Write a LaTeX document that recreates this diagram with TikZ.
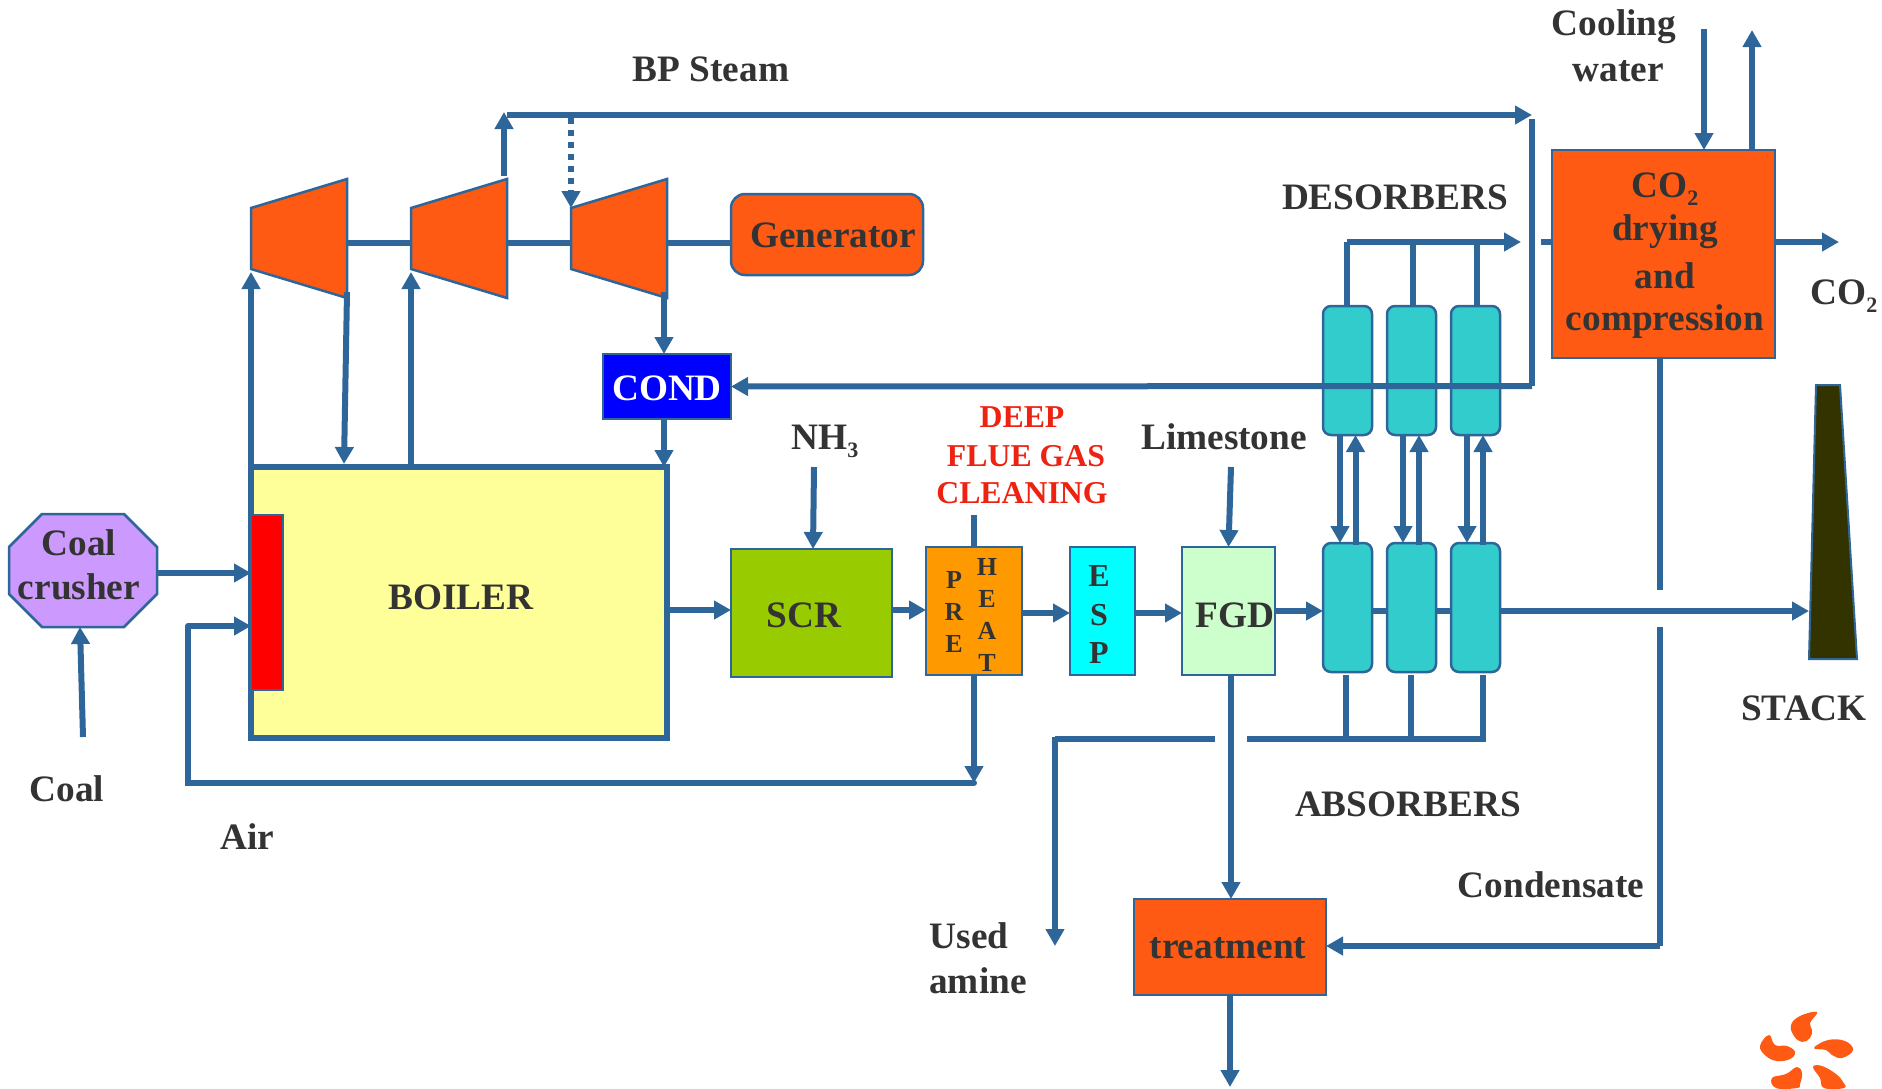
\documentclass[tikz,border=0pt]{standalone}
\usepackage{fontspec}
\setmainfont{Liberation Serif}
\usetikzlibrary{arrows.meta,calc}
\definecolor{lineblue}{HTML}{2E6699}
\definecolor{burnt}{HTML}{FF5A14}
\definecolor{txt}{HTML}{333333}
\definecolor{redtxt}{HTML}{EE2211}
\definecolor{boilerfill}{RGB}{255,255,153}
\definecolor{lilac}{RGB}{204,153,255}
\definecolor{scrgreen}{RGB}{153,204,0}
\definecolor{preorange}{RGB}{255,153,0}
\definecolor{espcyan}{RGB}{0,255,255}
\definecolor{fgdgreen}{RGB}{204,255,204}
\definecolor{teal}{RGB}{51,204,204}
\definecolor{stackdark}{RGB}{51,51,0}
\definecolor{purered}{RGB}{255,0,0}
\definecolor{pureblue}{RGB}{0,0,255}
\newcommand{\lowsub}[1]{\raisebox{-0.22em}{\fontsize{22}{22}\selectfont #1}}
\newcommand{\pxbox}[7]{%
  \pgfmathsetmacro\pxw{#5-#3}\pgfmathsetmacro\pxh{#6-#4}%
  \pgfmathsetmacro\pxx{(#5+#3)/2}\pgfmathsetmacro\pxy{(#6+#4)/2}%
  \node[#1,minimum width=\pxw pt,minimum height=\pxh pt,at={(\pxx,\pxy)}] (#2) {#7};}
\tikzset{
  boxbase/.style={draw=lineblue,line width=2.5pt,inner sep=0pt,outer sep=0pt},
  ghost/.style={inner sep=0pt,outer sep=0pt},
  lab/.style={inner sep=0pt,outer sep=0pt,align=center,font=\fontsize{37.3}{45}\selectfont\bfseries,text=txt},
  redlab/.style={lab,font=\fontsize{31.8}{39}\selectfont\bfseries,text=redtxt},
  smalllet/.style={lab,font=\fontsize{26}{32}\selectfont\bfseries},
  flow/.style={draw=lineblue,line width=6pt,-{Triangle[width=18pt,length=17pt]}},
  plain/.style={draw=lineblue,line width=6pt},
  turb/.style={draw=lineblue,line width=2.5pt,fill=burnt,line join=miter},
  petal/.style={fill=burnt,draw=none}
}
\begin{document}
\begin{tikzpicture}[x=1pt,y=-1pt]
\useasboundingbox (0,0) rectangle (1882,1088);
% ---------- equipment
\pxbox{boxbase,line width=6pt,fill=boilerfill}{boiler}{251}{467}{667}{738}{}
\node[lab] (boilertxt) at (461,597) {BOILER};
\pxbox{boxbase,fill=purered}{burner}{251}{515}{283}{690}{}
\pxbox{ghost}{crusher}{9}{514}{157}{627}{}
\draw[draw=lineblue,line width=2.5pt,fill=lilac]
  ([xshift=33pt]crusher.north west) -- ([xshift=-33pt]crusher.north east)
  -- ([yshift=-33pt]crusher.north east) -- ([yshift=33pt]crusher.south east)
  -- ([xshift=-33pt]crusher.south east) -- ([xshift=33pt]crusher.south west)
  -- ([yshift=33pt]crusher.south west) -- ([yshift=-33pt]crusher.north west) -- cycle;
\node[lab] (crushtxt1) at (79,543) {Coal};
\node[lab] (crushtxt2) at (79,587) {crusher};
\pxbox{ghost}{t1}{251}{179}{347}{298}{}
\pxbox{ghost}{t2}{411}{179}{507}{298}{}
\pxbox{ghost}{t3}{571}{179}{667}{298}{}
\foreach \t in {t1,t2,t3}{
  \draw[turb] (\t.north east) -- (\t.south east) -- ([yshift=29pt]\t.south west) -- ([yshift=-29pt]\t.north west) -- cycle;
}
\pxbox{boxbase,rounded corners=14pt,fill=burnt}{gen}{731}{194}{923}{275}{}
\node[lab] (gentxt) at (833,235) {Generator};
\pxbox{boxbase,fill=pureblue}{cond}{603}{354}{731}{419}{}
\node[lab,text=white] (condtxt) at (667,388) {COND};
\pxbox{boxbase,fill=scrgreen}{scr}{731}{549}{892}{677}{}
\node[lab] (scrtxt) at (804,615) {SCR};
\pxbox{boxbase,fill=preorange}{preheat}{926}{547}{1022}{675}{}
\node[smalllet] (pretxt) at (954,612) {P\\R\\E};
\node[smalllet] (heattxt) at (987,615) {H\\E\\A\\T};
\pxbox{boxbase,fill=espcyan}{esp}{1070}{547}{1135}{675}{}
\node[lab,font=\fontsize{32}{38.5}\selectfont\bfseries] (e1) at (1099,576) {E};
\node[lab,font=\fontsize{32}{38.5}\selectfont\bfseries] (e2) at (1099,615) {S};
\node[lab,font=\fontsize{32}{38.5}\selectfont\bfseries] (e3) at (1099,653) {P};
\pxbox{boxbase,fill=fgdgreen}{fgd}{1182}{547}{1275}{675}{}
\node[lab] (fgdtxt) at (1235,615) {FGD};
\foreach \n/\a/\b in {1/1323/1372,2/1387/1436,3/1451/1500}{
  \pxbox{boxbase,rounded corners=8pt,fill=teal}{abs\n}{\a}{543}{\b}{672}{}
  \pxbox{boxbase,rounded corners=8pt,fill=teal}{des\n}{\a}{306}{\b}{435}{}
}
\pxbox{boxbase,fill=burnt}{dry}{1552}{150}{1775}{358}{}
\node[lab] (d1) at (1665,189) {CO\lowsub{2}};
\node[lab] (d2) at (1665,232) {drying};
\node[lab] (d3) at (1665,276) {and};
\node[lab] (d4) at (1665,322) {compression};
\pxbox{boxbase,fill=burnt}{treat}{1134}{899}{1326}{995}{}
\node[lab] (treattxt) at (1228,948) {treatment};
\pxbox{ghost}{stack}{1809}{385}{1857}{659}{}
\draw[draw=lineblue,line width=2pt,fill=stackdark]
  ([xshift=7pt]stack.north west) -- ([xshift=-17pt]stack.north east) -- (stack.south east) -- (stack.south west) -- cycle;
% ---------- labels
\node[lab] (bp) at (711,69) {BP Steam};
\node[lab] (cw1) at (1614,27) {Cooling};
\node[lab] (cw2) at (1618,71) {water};
\node[lab] (desl) at (1395,197) {DESORBERS};
\node[lab] (co2l) at (1844,296) {CO\lowsub{2}};
\node[lab] (nh3) at (825,441) {NH\lowsub{3}};
\node[redlab] (deep1) at (1022,417) {DEEP};
\node[redlab] (deep2) at (1026,456) {FLUE GAS};
\node[redlab] (deep3) at (1022,493) {CLEANING};
\node[lab] (lime) at (1224,437) {Limestone};
\node[lab] (stackl) at (1804,708) {STACK};
\node[lab] (absl) at (1408,804) {ABSORBERS};
\node[lab] (condl) at (1551,885) {Condensate};
\node[lab] (coal) at (67,789) {Coal};
\node[lab] (air) at (247,837) {Air};
\node[lab] (used) at (969,936) {Used};
\node[lab] (amine) at (978,981) {amine};
% ---------- free ends
\coordinate (coalsrc) at (83,737);
\coordinate (nh3src) at (814,467);
\coordinate (limesrc) at (1231,467);
\coordinate (bpl) at (507,115);
\coordinate (bpr) at (1532,115);
\coordinate (condcorner) at (1532,386);
\coordinate (deepstub) at (974,515);
\coordinate (aircorner) at (974,783);
\coordinate (airleft) at (188,783);
\coordinate (airup) at (188,626);
\coordinate (usedend) at (1055,946);
\coordinate (cwin) at (1704,29);
\coordinate (cwout) at (1752,30);
\coordinate (co2end) at (1839,242);
\coordinate (treatout) at (1230,1087);
\coordinate (dslinestart) at (1347,242);
\coordinate (dsarrow) at (1521,242);
\coordinate (condbreakA) at (1660,590);
\coordinate (condbreakB) at (1660,627);
\coordinate (condturn) at (1660,946);
% ---------- shaft
\draw[plain] ([yshift=-4.5pt]t1.east) -- ([yshift=-4.5pt]t1.east -| t2.west);
\draw[plain] ([yshift=-4.5pt]t2.east) -- ([yshift=-4.5pt]t2.east -| t3.west);
\draw[plain] ([yshift=-4.5pt]t3.east) -- ([yshift=-4.5pt]t3.east -| gen.west);
% ---------- steam
\draw[flow] (boiler.north west) -- ([yshift=26pt]t1.south west);
\draw[flow] (t2.south west |- boiler.north) -- ([yshift=26pt]t2.south west);
\draw[flow] ([yshift=6pt]t1.south east) -- ([xshift=-115pt,yshift=3pt]boiler.north);
\draw[flow] ([xshift=-3pt,yshift=3pt]t2.north east) -- (504,112);
\draw[flow] (bpl) -- (bpr);
\draw[draw=lineblue,line width=6pt,dash pattern=on 6pt off 6pt,-{Triangle[width=18pt,length=17pt]}] (571,118) -- ([yshift=-29pt]t3.north west);
\draw[plain] (1532,119) -- (condcorner);
\draw[flow] (condcorner) -- (cond.east);
\draw[flow] ([xshift=-3pt,yshift=6pt]t3.south east) -- ([xshift=-3pt]cond.north);
\draw[flow] ([xshift=-3pt]cond.south) -- ([xshift=-3pt]cond.south |- boiler.north);
% ---------- air and coal
\draw[flow] (coalsrc) -- (80,627);
\draw[flow] (crusher.east |- 0,573) -- (burner.west |- 0,573);
\draw[plain,line cap=round] (aircorner) -- (airleft) -- (airup);
\draw[flow] (airup) -- (burner.west |- airup);
% ---------- gas path
\draw[flow] (boiler.east |- 0,610) -- (scr.west |- 0,610);
\draw[flow] (scr.east |- 0,610) -- (preheat.west |- 0,610);
\draw[flow] (preheat.east |- 0,613) -- (esp.west |- 0,613);
\draw[flow] (esp.east |- 0,613) -- (fgd.west |- 0,613);
\draw[flow] (fgd.east |- 0,611) -- (abs1.west |- 0,611);
\draw[plain] (abs1.east |- 0,611) -- (abs2.west |- 0,611);
\draw[plain] (abs2.east |- 0,611) -- (abs3.west |- 0,611);
\draw[flow] (abs3.east |- 0,611) -- (stack.west |- 0,611);
\draw[flow] (nh3src) -- (813,549);
\draw[flow] (limesrc) -- (fgd.north);
\draw[plain] (deepstub) -- (preheat.north -| deepstub);
\draw[flow] (preheat.south) -- (aircorner);
\draw[flow] (limesrc |- fgd.south) -- (limesrc |- treat.north);
\draw[flow] (treatout |- treat.south) -- (treatout);
% ---------- absorbers / desorbers
\foreach \n/\d/\u/\t/\s in {1/1340/1355.5/1347/1346,2/1403/1419/1413/1411,3/1467/1483/1477/1483}{
  \draw[flow] (\d,435) -- (\d,543);
  \draw[flow] (\u,545) -- (\u,435);
  \draw[plain] (\t,306) -- (\t,242);
  \draw[plain] (\s,675) -- (\s,739);
}
\draw[flow] (dslinestart) -- (dsarrow);
\draw[plain] (1541,242) -- (dry.west |- 0,242);
\draw[plain] (1247,739) -- (1486,739);
\draw[plain] (1215,739) -- (1055,739);
\draw[flow] (1055,737) -- (usedend);
% ---------- CO2 unit
\draw[flow] (dry.east |- 0,242) -- (co2end);
\draw[flow] (cwin) -- (cwin |- dry.north);
\draw[flow] (cwout |- dry.north) -- (cwout);
\draw[plain] (1660,358) -- (condbreakA);
\draw[plain] (condbreakB) -- (condturn);
\draw[flow] (condturn) -- (treat.east |- condturn);
% ---------- logo
\fill[petal] plot[smooth cycle,tension=0.7] coordinates {(1817,1012) (1800,1016) (1791,1025) (1794,1036) (1802,1042) (1810,1038) (1812,1030) (1810,1023)};
\fill[petal] plot[smooth cycle,tension=0.7] coordinates {(1769,1035) (1760,1046) (1766,1056) (1777,1061) (1790,1059) (1795,1052) (1787,1046) (1775,1045)};
\fill[petal] plot[smooth cycle,tension=0.7] coordinates {(1814,1048) (1828,1040) (1845,1041) (1853,1050) (1842,1058) (1832,1055) (1826,1050)};
\fill[petal] plot[smooth cycle,tension=0.7] coordinates {(1772,1078) (1786,1074) (1797,1067) (1802,1073) (1800,1084) (1797,1088) (1776,1088)};
\fill[petal] plot[smooth cycle,tension=0.7] coordinates {(1813,1067) (1822,1066) (1836,1074) (1843,1082) (1844,1088) (1824,1088) (1820,1078)};
\end{tikzpicture}
\end{document}
